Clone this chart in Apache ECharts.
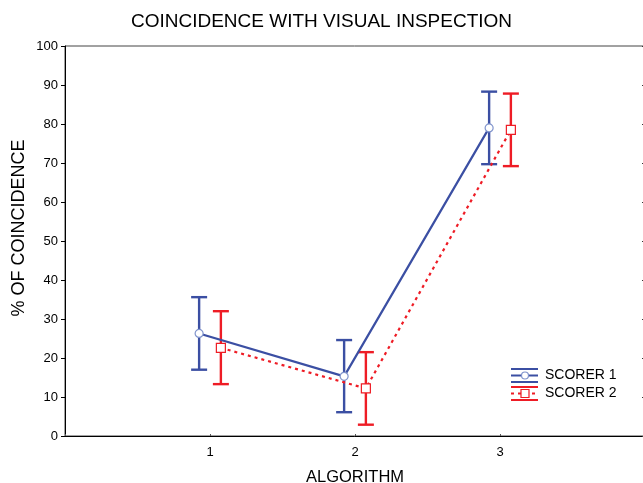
<!DOCTYPE html>
<html>
<head>
<meta charset="utf-8">
<script src="https://cdn.jsdelivr.net/npm/echarts@6/dist/echarts.min.js"></script>
<style>
html,body{margin:0;padding:0;background:#fff;}
#chart{width:643px;height:483px;}
</style>
</head>
<body>
<div id="chart"></div>
<script>
// ---- data ----
var categories = [1, 2, 3];
var xTickLabels = ['1', '2', '3'];
var yTickValues = [0, 10, 20, 30, 40, 50, 60, 70, 80, 90, 100];
var seriesNames = ['SCORER 1', 'SCORER 2'];
var scorer1Mean  = [26.3, 15.3, 79.0];
var scorer1Upper = [35.6, 24.6, 88.3];
var scorer1Lower = [17.0, 6.1, 69.7];
var scorer2Mean  = [22.6, 12.2, 78.5];
var scorer2Upper = [32.0, 21.5, 87.8];
var scorer2Lower = [13.3, 2.9, 69.2];

// ---- styles ----
var FONT = '"Liberation Sans", Arial, sans-serif';
var BLUE = '#3b4fa3';
var RED = '#ee1c25';
var DODGE = 0.075;
var CAP = 8;

function pts(mean, off) {
  return categories.map(function (c, i) { return [c + off, mean[i]]; });
}
function bars(lo, hi, off) {
  return categories.map(function (c, i) { return [c + off, lo[i], hi[i]]; });
}
function errorSeries(name, data, color) {
  return {
    type: 'custom',
    name: name,
    xAxisIndex: 0, yAxisIndex: 0,
    z: 2,
    data: data,
    encode: { x: 0, y: [1, 2] },
    renderItem: function (params, api) {
      var lo = api.coord([api.value(0), api.value(1)]);
      var hi = api.coord([api.value(0), api.value(2)]);
      var st = { stroke: color, lineWidth: 2.4 };
      return {
        type: 'group',
        children: [
          { type: 'line', shape: { x1: lo[0], y1: lo[1], x2: hi[0], y2: hi[1] }, style: st },
          { type: 'line', shape: { x1: hi[0] - CAP, y1: hi[1], x2: hi[0] + CAP, y2: hi[1] }, style: st },
          { type: 'line', shape: { x1: lo[0] - CAP, y1: lo[1], x2: lo[0] + CAP, y2: lo[1] }, style: st }
        ]
      };
    }
  };
}

var chart = echarts.init(document.getElementById('chart'), null, { renderer: 'canvas' });

var option = {
  animation: false,
  backgroundColor: '#fff',
  title: {
    text: 'COINCIDENCE WITH VISUAL INSPECTION',
    left: 'center',
    top: 7,
    padding: [5, 0, 5, 8],
    textStyle: { fontFamily: FONT, fontSize: 19, fontWeight: 'normal', color: '#000' }
  },
  grid: {
    left: 65, top: 46, width: 580, height: 390,
    outerBoundsMode: 'none', containLabel: false,
    show: true, borderColor: '#444', borderWidth: 1, backgroundColor: 'transparent'
  },
  xAxis: {
    type: 'value', min: 0, max: 4, interval: 1,
    name: 'ALGORITHM', nameLocation: 'middle', nameGap: 33,
    nameTextStyle: { fontFamily: FONT, fontSize: 16.5, color: '#000' },
    axisLine: { show: true, lineStyle: { color: '#000', width: 1 } },
    axisTick: { show: true, inside: true, length: 2, lineStyle: { color: '#555' } },
    splitLine: { show: false },
    axisLabel: {
      fontFamily: FONT, fontSize: 13, color: '#000', margin: 10,
      formatter: function (v) { var i = categories.indexOf(v); return i >= 0 ? xTickLabels[i] : ''; }
    }
  },
  yAxis: [
    {
      type: 'value', min: yTickValues[0], max: yTickValues[yTickValues.length - 1], interval: 10,
      position: 'left',
      axisLine: { show: true, lineStyle: { color: '#000', width: 1 } },
      axisTick: { show: true, inside: false, length: 4, lineStyle: { color: '#000' } },
      splitLine: { show: false },
      axisLabel: { fontFamily: FONT, fontSize: 13, color: '#000', margin: 7 }
    },
    {
      type: 'value', min: yTickValues[0], max: yTickValues[yTickValues.length - 1], interval: 10,
      position: 'right',
      axisLine: { show: false },
      axisTick: { show: true, inside: true, length: 3, lineStyle: { color: '#333' } },
      splitLine: { show: false },
      axisLabel: { show: false }
    }
  ],
  graphic: [
    { type: 'text', x: 19, y: 228, rotation: Math.PI / 2,
      style: { text: '% OF COINCIDENCE', fontFamily: FONT, fontSize: 18, fill: '#000', align: 'center', verticalAlign: 'middle' } },
    // legend: scorer 1
    { type: 'line', shape: { x1: 511, y1: 369, x2: 538, y2: 369 }, style: { stroke: BLUE, lineWidth: 2 } },
    { type: 'line', shape: { x1: 511, y1: 375.5, x2: 538, y2: 375.5 }, style: { stroke: BLUE, lineWidth: 2 } },
    { type: 'line', shape: { x1: 511, y1: 382, x2: 538, y2: 382 }, style: { stroke: BLUE, lineWidth: 2 } },
    { type: 'circle', shape: { cx: 525, cy: 375.5, r: 3.5 }, style: { fill: '#fff', stroke: '#8094cc', lineWidth: 1.2 } },
    { type: 'text', x: 545, y: 375.5, style: { text: seriesNames[0], fontFamily: FONT, fontSize: 14, fill: '#000', verticalAlign: 'middle' } },
    // legend: scorer 2
    { type: 'line', shape: { x1: 511, y1: 387, x2: 538, y2: 387 }, style: { stroke: RED, lineWidth: 2 } },
    { type: 'line', shape: { x1: 511, y1: 393.5, x2: 538, y2: 393.5 }, style: { stroke: RED, lineWidth: 2, lineDash: [3, 4] } },
    { type: 'line', shape: { x1: 511, y1: 400, x2: 538, y2: 400 }, style: { stroke: RED, lineWidth: 2 } },
    { type: 'rect', shape: { x: 521, y: 389.5, width: 8, height: 8 }, style: { fill: '#fff', stroke: RED, lineWidth: 1.2 } },
    { type: 'text', x: 545, y: 393.5, style: { text: seriesNames[1], fontFamily: FONT, fontSize: 14, fill: '#000', verticalAlign: 'middle' } }
  ],
  series: [
    errorSeries(seriesNames[0] + ' error', bars(scorer1Lower, scorer1Upper, -DODGE), BLUE),
    errorSeries(seriesNames[1] + ' error', bars(scorer2Lower, scorer2Upper, DODGE), RED),
    {
      type: 'line', name: seriesNames[0], z: 3,
      data: pts(scorer1Mean, -DODGE),
      lineStyle: { color: BLUE, width: 2.2 },
      symbol: 'circle', symbolSize: 8,
      itemStyle: { color: '#fff', borderColor: '#8094cc', borderWidth: 1.2 }
    },
    {
      type: 'line', name: seriesNames[1], z: 3,
      data: pts(scorer2Mean, DODGE),
      lineStyle: { color: RED, width: 2.2, type: [3, 4] },
      symbol: 'rect', symbolSize: 9,
      itemStyle: { color: '#fff', borderColor: RED, borderWidth: 1.2 }
    }
  ]
};
chart.setOption(option);
</script>
</body>
</html>
